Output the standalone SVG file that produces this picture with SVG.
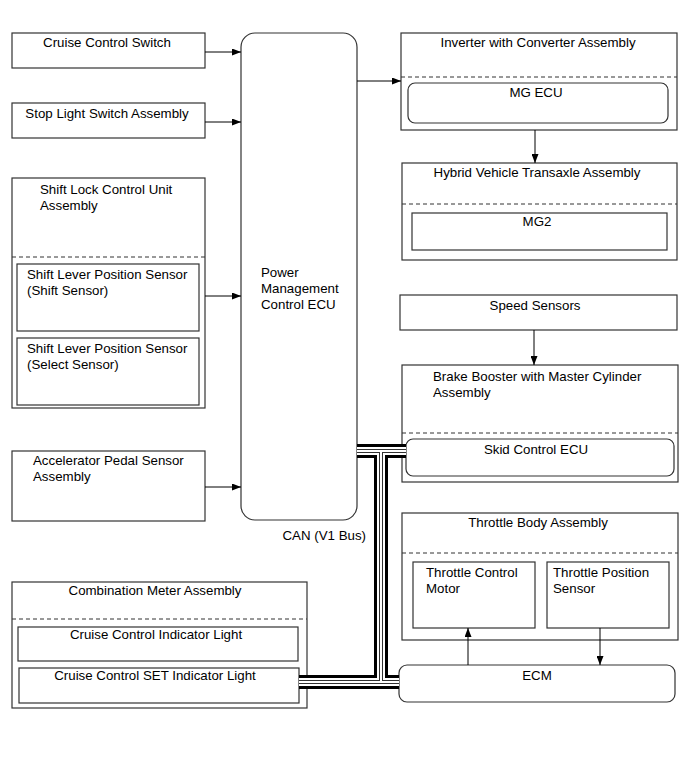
<svg xmlns="http://www.w3.org/2000/svg" width="690" height="757" viewBox="0 0 690 757">
<style>
text{font-family:"Liberation Sans",Arial,sans-serif;font-size:13.3px;fill:#000}
.c{text-anchor:middle}
.b{fill:#fff;stroke:#333;stroke-width:1.2}
.d{stroke:#333;stroke-width:1;stroke-dasharray:4,3;fill:none}
.a{stroke:#000;stroke-width:1;fill:none;marker-end:url(#ah)}
.bus{fill:none;stroke-linecap:butt}
</style>
<defs>
<marker id="ah" markerWidth="9" markerHeight="7" refX="9" refY="3.5" orient="auto" markerUnits="userSpaceOnUse">
<path d="M0,0 L9,3.5 L0,7 Z" fill="#000"/>
</marker>
</defs>
<rect width="690" height="757" fill="#fff"/>

<g id="cruise-switch">
<rect class="b" x="12" y="33" width="193" height="35"/>
<text class="c" x="107" y="47">Cruise Control Switch</text>
</g>
<g id="stop-light">
<rect class="b" x="12" y="103" width="193" height="35"/>
<text class="c" x="107" y="118">Stop Light Switch Assembly</text>
</g>
<g id="shift-lock">
<rect class="b" x="12" y="178" width="193" height="230"/>
<text x="40" y="194">Shift Lock Control Unit</text>
<text x="40" y="210">Assembly</text>
<line class="d" x1="12" y1="257" x2="205" y2="257"/>
<rect class="b" x="17" y="264" width="182" height="67"/>
<text x="27" y="279">Shift Lever Position Sensor</text>
<text x="27" y="295">(Shift Sensor)</text>
<rect class="b" x="17" y="338" width="182" height="67"/>
<text x="27" y="353">Shift Lever Position Sensor</text>
<text x="27" y="369">(Select Sensor)</text>
</g>
<g id="accel">
<rect class="b" x="12" y="451" width="193" height="70"/>
<text x="33" y="465">Accelerator Pedal Sensor</text>
<text x="33" y="481">Assembly</text>
</g>
<g id="pm-ecu">
<rect class="b" x="241" y="33" width="116" height="487" rx="14" ry="14"/>
<text x="261" y="277">Power</text>
<text x="261" y="293">Management</text>
<text x="261" y="309">Control ECU</text>
</g>
<g id="inverter">
<rect class="b" x="401" y="33" width="276" height="97"/>
<text class="c" x="538" y="47">Inverter with Converter Assembly</text>
<line class="d" x1="401" y1="77" x2="677" y2="77"/>
<rect class="b" x="408" y="83" width="260" height="40" rx="7" ry="7"/>
<text class="c" x="536" y="97">MG ECU</text>
</g>
<g id="transaxle">
<rect class="b" x="402" y="163" width="275" height="97"/>
<text class="c" x="537" y="177">Hybrid Vehicle Transaxle Assembly</text>
<line class="d" x1="402" y1="204" x2="677" y2="204"/>
<rect class="b" x="412" y="213" width="255" height="37"/>
<text class="c" x="537" y="226">MG2</text>
</g>
<g id="speed-sensors">
<rect class="b" x="400" y="295" width="277" height="35"/>
<text class="c" x="535" y="310">Speed Sensors</text>
</g>
<g id="brake-booster">
<rect class="b" x="402" y="365" width="276" height="117"/>
<text x="433" y="381">Brake Booster with Master Cylinder</text>
<text x="433" y="397">Assembly</text>
<line class="d" x1="402" y1="433" x2="678" y2="433"/>
<rect class="b" x="406" y="439" width="268" height="37" rx="7" ry="7"/>
<text class="c" x="536" y="454">Skid Control ECU</text>
</g>
<g id="throttle-body">
<rect class="b" x="402" y="513" width="276" height="127"/>
<text class="c" x="538" y="527">Throttle Body Assembly</text>
<line class="d" x1="402" y1="553" x2="678" y2="553"/>
<rect class="b" x="413" y="562" width="122" height="66"/>
<text x="426" y="577">Throttle Control</text>
<text x="426" y="593">Motor</text>
<rect class="b" x="547" y="562" width="122" height="66"/>
<text x="553" y="577">Throttle Position</text>
<text x="553" y="593">Sensor</text>
</g>
<g id="ecm">
<rect class="b" x="399" y="665" width="276" height="37" rx="8" ry="8"/>
<text class="c" x="537" y="680">ECM</text>
</g>
<g id="combination-meter">
<rect class="b" x="12" y="582" width="295" height="126"/>
<text class="c" x="155" y="595">Combination Meter Assembly</text>
<line class="d" x1="12" y1="619" x2="307" y2="619"/>
<rect class="b" x="18" y="627" width="280" height="34"/>
<text class="c" x="156" y="639">Cruise Control Indicator Light</text>
<rect class="b" x="19" y="668" width="280" height="35"/>
<text class="c" x="155" y="680">Cruise Control SET Indicator Light</text>
</g>
<g id="bus-label">
<text x="366" y="540" text-anchor="end">CAN (V1 Bus)</text>
</g>

<g id="connectors">
<line class="a" x1="205" y1="52" x2="241" y2="52"/>
<line class="a" x1="205" y1="122" x2="241" y2="122"/>
<line class="a" x1="205" y1="296" x2="241" y2="296"/>
<line class="a" x1="205" y1="487" x2="241" y2="487"/>
<line class="a" x1="357" y1="81" x2="401" y2="81"/>
<line class="a" x1="535" y1="130" x2="535" y2="163"/>
<line class="a" x1="534" y1="330" x2="534" y2="365"/>
<line class="a" x1="468" y1="665" x2="468" y2="628"/>
<line class="a" x1="600" y1="628" x2="600" y2="665"/>
<g id="can-bus" class="bus">
<path d="M357,451 H406 M381,451 V682 M299,682 H399" stroke="#000" stroke-width="14"/>
<path d="M357,451 H406 M381,451 V682 M299,682 H399" stroke="#fff" stroke-width="8"/>
<path d="M357,451 H406 M381,451 V682 M299,682 H399" stroke="#333" stroke-width="4"/>
<path d="M357,451 H406 M381,451 V682 M299,682 H399" stroke="#fff" stroke-width="2"/>
</g>
</g>
</svg>
